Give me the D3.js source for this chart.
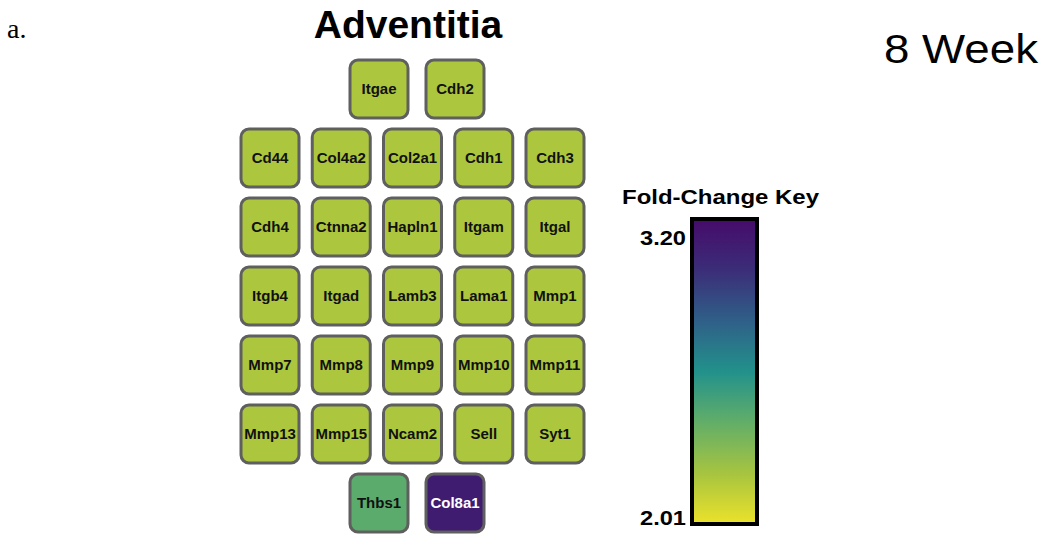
<!DOCTYPE html>
<html>
<head>
<meta charset="utf-8">
<script src="https://cdn.jsdelivr.net/npm/d3@7"></script>
<style>
  html, body { margin: 0; padding: 0; background: #fff; }
  svg { display: block; }
</style>
</head>
<body>
<svg id="chart" width="1043" height="536"></svg>
<script>
// Genes shown as tiles, read row by row
const genes = [
  "Itgae", "Cdh2",
  "Cd44", "Col4a2", "Col2a1", "Cdh1", "Cdh3",
  "Cdh4", "Ctnna2", "Hapln1", "Itgam", "Itgal",
  "Itgb4", "Itgad", "Lamb3", "Lama1", "Mmp1",
  "Mmp7", "Mmp8", "Mmp9", "Mmp10", "Mmp11",
  "Mmp13", "Mmp15", "Ncam2", "Sell", "Syt1",
  "Thbs1", "Col8a1"
];
// Fold change for each gene (same order)
const foldChange = [
  2.19, 2.19,
  2.19, 2.19, 2.19, 2.19, 2.19,
  2.19, 2.19, 2.19, 2.19, 2.19,
  2.19, 2.19, 2.19, 2.19, 2.19,
  2.19, 2.19, 2.19, 2.19, 2.19,
  2.19, 2.19, 2.19, 2.19, 2.19,
  2.43, 3.10
];
// Number of tiles in each row
const rowCounts = [2, 5, 5, 5, 5, 5, 2];
// Colour key range and its labels
const keyDomain = [2.01, 3.20];
const keyTicks = ["2.01", "3.20"];
// Colour ramp from low to high fold change
const rampColors = ["#ece22a", "#a6c440", "#62ae68", "#22918b", "#2f5f88", "#3b2d78", "#460b6a"];

const svg = d3.select("#chart");
const sans = "Liberation Sans, Arial, sans-serif";

const rampDomain = rampColors.map((c, i) =>
  keyDomain[0] + (keyDomain[1] - keyDomain[0]) * i / (rampColors.length - 1));
const color = d3.scaleLinear().domain(rampDomain).range(rampColors)
  .interpolate(d3.interpolateRgb).clamp(true);

// Panel letter and titles
svg.append("text").attr("x", 7).attr("y", 38)
  .attr("font-family", "Liberation Serif, Times New Roman, serif")
  .attr("font-size", 28).attr("fill", "#000").text("a.");

svg.append("text").attr("x", 408).attr("y", 38)
  .attr("text-anchor", "middle")
  .attr("font-family", sans)
  .attr("font-weight", "bold").attr("font-size", 39).attr("fill", "#000")
  .text("Adventitia");

svg.append("text").attr("x", 884).attr("y", 63)
  .attr("font-family", sans)
  .attr("font-size", 40).attr("fill", "#000")
  .attr("textLength", 154).attr("lengthAdjust", "spacingAndGlyphs")
  .text("8 Week");

// Tile layout
const tileSize = 58;
const rowY = d3.scaleLinear().domain([0, rowCounts.length - 1]).range([89, 503]);
const fullCol = d3.scaleLinear().domain([0, 4]).range([270, 555]);
const shortCol = d3.scaleLinear().domain([0, 1]).range([379, 455]);

let idx = 0;
const tiles = [];
rowCounts.forEach((n, r) => {
  for (let c = 0; c < n; c++) {
    tiles.push({
      gene: genes[idx],
      value: foldChange[idx],
      cx: n === 5 ? fullCol(c) : shortCol(c),
      cy: rowY(r)
    });
    idx++;
  }
});

const tileG = svg.append("g").selectAll("g").data(tiles).join("g")
  .attr("transform", d => `translate(${d.cx},${d.cy})`);

tileG.append("rect")
  .attr("x", -tileSize / 2).attr("y", -tileSize / 2)
  .attr("width", tileSize).attr("height", tileSize)
  .attr("rx", 8).attr("ry", 8)
  .attr("fill", d => color(d.value))
  .attr("stroke", "#5f5f5f").attr("stroke-width", 3);

tileG.append("text")
  .attr("text-anchor", "middle").attr("y", 5)
  .attr("font-family", sans)
  .attr("font-weight", "bold").attr("font-size", 15)
  .attr("fill", d => d.value > 2.8 ? "#fff" : "#111")
  .text(d => d.gene);

// Colour key
const keyX = 692, keyW = 65;
const keyY = d3.scaleLinear().domain(keyDomain).range([524, 219]);

const defs = svg.append("defs");
const grad = defs.append("linearGradient").attr("id", "fcRamp")
  .attr("x1", 0).attr("y1", 1).attr("x2", 0).attr("y2", 0);
grad.selectAll("stop").data(rampDomain).join("stop")
  .attr("offset", d => (d - keyDomain[0]) / (keyDomain[1] - keyDomain[0]))
  .attr("stop-color", d => color(d));

svg.append("rect")
  .attr("x", keyX).attr("y", keyY(keyDomain[1]))
  .attr("width", keyW).attr("height", keyY(keyDomain[0]) - keyY(keyDomain[1]))
  .attr("fill", "url(#fcRamp)")
  .attr("stroke", "#000").attr("stroke-width", 4);

svg.append("text").attr("x", 622).attr("y", 204)
  .attr("font-family", sans)
  .attr("font-weight", "bold").attr("font-size", 20).attr("fill", "#000")
  .attr("textLength", 197).attr("lengthAdjust", "spacingAndGlyphs")
  .text("Fold-Change Key");

svg.append("g").selectAll("text").data(keyTicks).join("text")
  .attr("x", 640)
  .attr("y", d => +d === keyDomain[1] ? keyY(+d) + 26 : keyY(+d) + 1)
  .attr("font-family", sans)
  .attr("font-weight", "bold").attr("font-size", 20).attr("fill", "#000")
  .attr("textLength", 46).attr("lengthAdjust", "spacingAndGlyphs")
  .text(d => d);
</script>
</body>
</html>
